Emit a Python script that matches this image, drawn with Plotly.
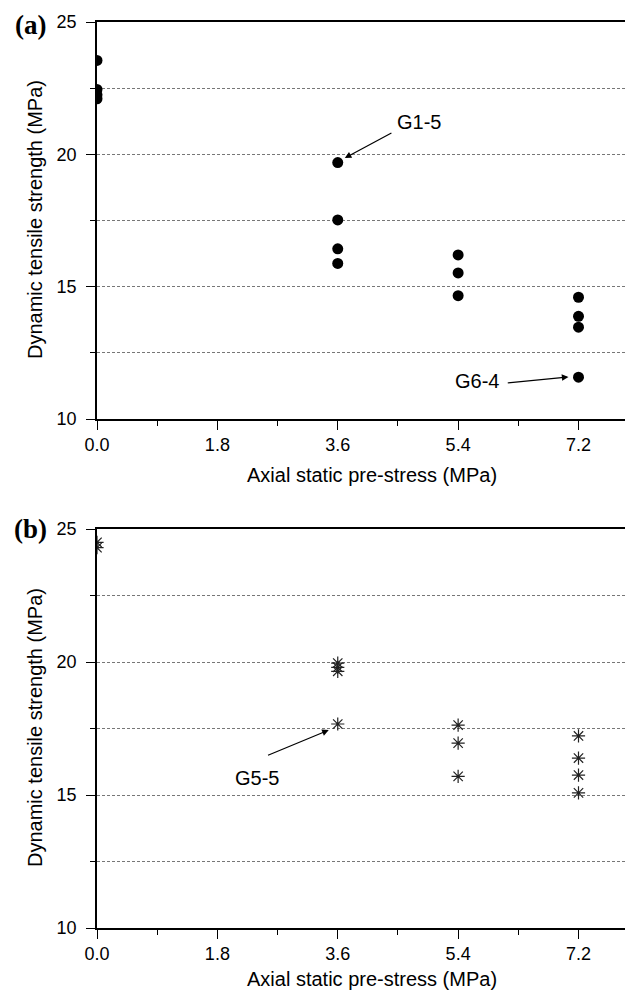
import plotly.graph_objects as go

# ---- data ----
x_a = [0.0, 0.0, 0.0, 0.0, 3.6, 3.6, 3.6, 3.6, 5.4, 5.4, 5.4, 7.2, 7.2, 7.2, 7.2]
y_a = [23.55, 22.45, 22.25, 22.1, 19.69, 17.52, 16.43, 15.88, 16.2, 15.52, 14.66, 14.6, 13.88, 13.47, 11.58]

x_b = [0.0, 0.0, 3.6, 3.6, 3.6, 3.6, 5.4, 5.4, 5.4, 7.2, 7.2, 7.2, 7.2]
y_b = [24.5, 24.3, 19.96, 19.8, 19.65, 17.67, 17.63, 16.95, 15.7, 17.22, 16.39, 15.75, 15.08]

x_tick_values = [0.0, 1.8, 3.6, 5.4, 7.2]
x_tick_labels = ["0.0", "1.8", "3.6", "5.4", "7.2"]
x_minor_ticks = [0.9, 2.7, 4.5, 6.3]
y_tick_values = [10, 15, 20, 25]

x_title = "Axial static pre-stress (MPa)"
y_title = "Dynamic tensile strength (MPa)"

OFF = 8            # default page body margin
W, H = 625, 991
L, R = 97 - OFF, 1
FONT = "Liberation Sans, Arial, sans-serif"
SERIF = "Liberation Serif, Times New Roman, serif"

def py(p):  # screen pixel row -> paper fraction
    return 1 - (p - OFF) / H

def px(p):  # screen pixel column -> paper fraction (plot area based)
    return (p - OFF - L) / (W - L - R)

fig = go.Figure()
fig.add_trace(go.Scatter(x=x_a, y=y_a, mode="markers", xaxis="x", yaxis="y",
                         marker=dict(symbol="circle", size=11, color="black"),
                         showlegend=False))
fig.add_trace(go.Scatter(x=x_b, y=y_b, mode="markers", xaxis="x2", yaxis="y2",
                         marker=dict(symbol="asterisk-open", size=11, color="#222",
                                     line=dict(color="#222", width=1.2)),
                         showlegend=False))

common_x = dict(range=[0, 8.0], tickvals=x_tick_values, ticktext=x_tick_labels,
                ticks="outside", ticklen=9, tickwidth=1.3, tickcolor="black",
                showline=True, linecolor="black", linewidth=1.5, mirror=True,
                showgrid=False, zeroline=False,
                minor=dict(tickvals=x_minor_ticks, ticks="outside", ticklen=5,
                           tickwidth=1.3, tickcolor="black", showgrid=False),
                tickfont=dict(family=FONT, size=18, color="black"),
                automargin=False)
common_y = dict(range=[10, 25], tickvals=y_tick_values,
                ticks="outside", ticklen=9, tickwidth=1.3, tickcolor="black",
                showline=True, linecolor="black", linewidth=1.5, mirror=True,
                showgrid=True, gridcolor="#777", griddash="3px,2px", gridwidth=1,
                zeroline=False, ticklabelstandoff=6,
                minor=dict(dtick=2.5, tick0=10, ticks="outside", ticklen=5,
                           tickwidth=1.3, tickcolor="black", showgrid=True,
                           gridcolor="#777", griddash="3px,2px", gridwidth=1),
                tickfont=dict(family=FONT, size=18, color="black"),
                automargin=False)

fig.update_layout(
    width=W, height=H,
    margin=dict(l=L, r=R, t=0, b=0),
    plot_bgcolor="white", paper_bgcolor="white",
    xaxis=dict(common_x, domain=[0, 1], anchor="y"),
    yaxis=dict(common_y, domain=[py(419), py(22)], anchor="x"),
    xaxis2=dict(common_x, domain=[0, 1], anchor="y2"),
    yaxis2=dict(common_y, domain=[py(928), py(529)], anchor="x2"),
)

ann = []
for yc in (220, 728):
    ann.append(dict(text=y_title, xref="paper", yref="paper", x=px(35), y=py(yc),
                    textangle=-90, showarrow=False, xanchor="center", yanchor="middle",
                    font=dict(family=FONT, size=20, color="black")))
for yc in (475, 979):
    ann.append(dict(text=x_title, xref="paper", yref="paper", x=px(372), y=py(yc),
                    showarrow=False, xanchor="center", yanchor="middle",
                    font=dict(family=FONT, size=20, color="black")))
# panel labels
ann.append(dict(text="<b>(a)</b>", xref="paper", yref="paper", x=px(30), y=py(9),
                showarrow=False, xanchor="center", yanchor="top", borderpad=0,
                font=dict(family=SERIF, size=27, color="black")))
ann.append(dict(text="<b>(b)</b>", xref="paper", yref="paper", x=px(30), y=py(529),
                showarrow=False, xanchor="center", yanchor="middle", borderpad=0,
                font=dict(family=SERIF, size=27, color="black")))

arrow_style = dict(showarrow=True, arrowhead=2, arrowsize=1.1, arrowwidth=1.2,
                   arrowcolor="black", text="", standoff=0)
lab_font = dict(family=FONT, size=20, color="black")
ann.append(dict(arrow_style, xref="x", yref="y", axref="x", ayref="y",
                x=3.705, y=19.86, ax=4.425, ay=20.84))
ann.append(dict(text="G1-5", xref="x", yref="y", x=4.815, y=21.22, showarrow=False,
                font=lab_font))
ann.append(dict(arrow_style, xref="x", yref="y", axref="x", ayref="y",
                x=7.05, y=11.59, ax=6.12, ay=11.36))
ann.append(dict(text="G6-4", xref="x", yref="y", x=5.685, y=11.44, showarrow=False,
                font=lab_font))
ann.append(dict(arrow_style, xref="x2", yref="y2", axref="x2", ayref="y2",
                x=3.465, y=17.44, ax=2.535, ay=16.47))
ann.append(dict(text="G5-5", xref="x2", yref="y2", x=2.385, y=15.64, showarrow=False,
                font=lab_font))

fig.update_layout(annotations=ann)
fig.write_html("out.html")
